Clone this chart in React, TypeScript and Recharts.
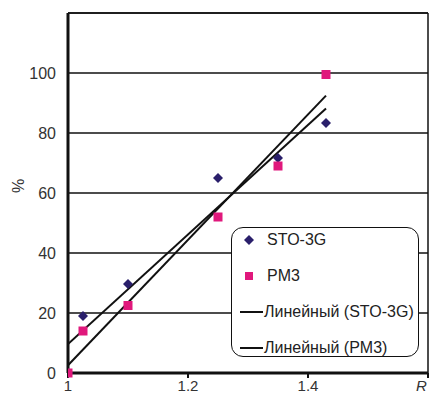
import {
  ComposedChart,
  Scatter,
  XAxis,
  YAxis,
  CartesianGrid,
  ReferenceLine,
} from "recharts";

const rValues = [1, 1.025, 1.1, 1.25, 1.35, 1.43];
const sto3g = [0, 19, 29.7, 65, 71.7, 83.3];
const pm3 = [0, 14, 22.5, 52, 69, 99.5];
const xTicks = [1, 1.2, 1.4, 1.6];
const yTicks = [0, 20, 40, 60, 80, 100, 120];

const toPoints = (ys: number[]) => rValues.map((r, i) => ({ r, v: ys[i] }));

// least-squares trend line over the data range
function linearFit(ys: number[]) {
  const n = rValues.length;
  const mx = rValues.reduce((a, b) => a + b, 0) / n;
  const my = ys.reduce((a, b) => a + b, 0) / n;
  let sxy = 0;
  let sxx = 0;
  rValues.forEach((x, i) => {
    sxy += (x - mx) * (ys[i] - my);
    sxx += (x - mx) * (x - mx);
  });
  const k = sxy / sxx;
  const b = my - k * mx;
  const x0 = rValues[0];
  const x1 = rValues[n - 1];
  return [
    { r: x0, v: b + k * x0 },
    { r: x1, v: b + k * x1 },
  ];
}

const NAVY = "#2a1f6b";
const MAGENTA = "#e0187c";
const FONT = "'Liberation Sans', Arial, sans-serif";

const Diamond = (p: any) => {
  const { cx, cy } = p;
  if (cx == null || cy == null) return null;
  const s = 5;
  return <polygon points={`${cx},${cy - s} ${cx + s},${cy} ${cx},${cy + s} ${cx - s},${cy}`} fill={NAVY} />;
};

const Square = (p: any) => {
  const { cx, cy } = p;
  if (cx == null || cy == null) return null;
  return <rect x={cx - 4.5} y={cy - 4.5} width={9} height={9} fill={MAGENTA} />;
};

const NoDot = () => null;

const XTick = (p: any) => {
  const { x, y, payload } = p;
  const last = payload.value === 1.6;
  return (
    <text
      x={last ? x - 4 : x}
      y={y + 11}
      textAnchor={last ? "start" : "middle"}
      fontSize={15}
      fontFamily={FONT}
      fontStyle={last ? "italic" : "normal"}
      fill="#333"
    >
      {last ? "R" : String(payload.value)}
    </text>
  );
};

const legendRows = [
  { label: "STO-3G", icon: "diamond" },
  { label: "PM3", icon: "square" },
  { label: "Линейный (STO-3G)", icon: "line" },
  { label: "Линейный (PM3)", icon: "line" },
];

const LegendBox = () => {
  const txt = { fontSize: 16, color: "#222", fontFamily: FONT, whiteSpace: "nowrap" as const };
  return (
    <div
      style={{
        position: "absolute",
        left: 231,
        top: 227,
        width: 188,
        height: 130,
        border: "1.5px solid #111",
        borderRadius: 12,
        background: "#fff",
        boxSizing: "border-box",
      }}
    >
      {legendRows.map((row, i) => (
        <div
          key={row.label}
          style={{ position: "absolute", left: 8, top: -6 + i * 36, height: 36, display: "flex", alignItems: "center" }}
        >
          <svg width={row.icon === "line" ? 24 : 27} height={12}>
            {row.icon === "diamond" && <polygon points="9,1 14,6 9,11 4,6" fill={NAVY} />}
            {row.icon === "square" && <rect x={5} y={2} width={8} height={8} fill={MAGENTA} />}
            {row.icon === "line" && <line x1={0} y1={6} x2={23} y2={6} stroke="#111" strokeWidth={2} />}
          </svg>
          <span style={txt}>{row.label}</span>
        </div>
      ))}
    </div>
  );
};

export default function App() {
  return (
    <div style={{ position: "absolute", left: 0, top: 0, width: 430, height: 395, background: "#fff", overflow: "hidden" }}>
      <ComposedChart width={430} height={395} margin={{ top: 13, right: 2, bottom: 0, left: 8 }}>
        <CartesianGrid horizontal vertical={false} stroke="#111" strokeWidth={1.5} />
        <XAxis
          type="number"
          dataKey="r"
          domain={[1, 1.6]}
          ticks={xTicks}
          allowDataOverflow
          axisLine={{ stroke: "#111", strokeWidth: 3 }}
          tickLine={{ stroke: "#111", strokeWidth: 2 }}
          tickSize={5}
          tick={<XTick />}
          height={22}
        />
        <YAxis
          type="number"
          dataKey="v"
          domain={[0, 120]}
          ticks={yTicks}
          tickFormatter={(v: number) => (v === 120 ? "" : String(v))}
          axisLine={{ stroke: "#111", strokeWidth: 3 }}
          tickLine={false}
          tickMargin={6}
          tick={{ fontSize: 16, fill: "#333", fontFamily: FONT }}
          width={60}
          label={{ value: "%", angle: -90, position: "insideLeft", offset: 10, fontSize: 16, fill: "#333", fontFamily: FONT }}
        />
        <ReferenceLine x={1.6} stroke="#111" strokeWidth={1.5} />
        <ReferenceLine y={120} stroke="#111" strokeWidth={1.5} />
        <Scatter data={linearFit(sto3g)} line={{ stroke: "#111", strokeWidth: 2 }} shape={<NoDot />} isAnimationActive={false} />
        <Scatter data={linearFit(pm3)} line={{ stroke: "#111", strokeWidth: 2 }} shape={<NoDot />} isAnimationActive={false} />
        <Scatter name="STO-3G" data={toPoints(sto3g)} shape={<Diamond />} isAnimationActive={false} />
        <Scatter name="PM3" data={toPoints(pm3)} shape={<Square />} isAnimationActive={false} />
      </ComposedChart>
      <LegendBox />
    </div>
  );
}
